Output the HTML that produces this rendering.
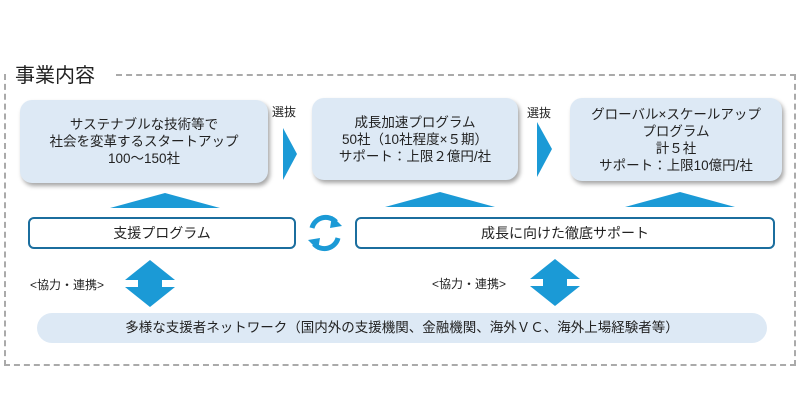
<!DOCTYPE html>
<html><head><meta charset="utf-8"><style>
body{margin:0;width:800px;height:420px;background:#fff;position:relative;overflow:hidden;font-family:"Liberation Sans","Noto Sans CJK JP",sans-serif;color:#222}
.a{position:absolute}
.box{position:absolute;background:#dde9f5;border-radius:12px;box-shadow:2px 3px 4px rgba(0,0,0,.35);text-align:center;font-size:13.5px;line-height:17px;display:flex;align-items:center;justify-content:center}
.prog{position:absolute;border:2px solid #1b6e9e;border-radius:6px;background:#fff;text-align:center;font-size:14px;line-height:28px}
.tri{position:absolute;width:0;height:0;border-bottom:16px solid #1b9ad6}
.lbl{position:absolute;font-size:12px}
</style></head><body>
<div class="a" style="left:4px;top:74px;width:792px;height:292px;border:2px dashed #aaa;border-top:none;box-sizing:border-box"></div>
<div class="a" style="left:116px;top:74px;width:680px;border-top:2px dashed #aaa"></div>
<div class="a" style="left:15px;top:59px;font-size:20px">事業内容</div>
<div class="box" style="left:20px;top:100px;width:248px;height:83px">サステナブルな技術等で<br>社会を変革するスタートアップ<br>100～150社</div>
<div class="box" style="left:312px;top:98px;width:206px;height:82px">成長加速プログラム<br>50社（10社程度×５期）<br>サポート：上限２億円/社</div>
<div class="box" style="left:570px;top:98px;width:212px;height:83px">グローバル×スケールアップ<br>プログラム<br>計５社<br>サポート：上限10億円/社</div>
<div class="lbl" style="left:272px;top:103px">選抜</div>
<div class="lbl" style="left:527px;top:104px">選抜</div>
<svg class="a" style="left:0;top:0" width="800" height="420">
<polygon points="283,128 297,154 283,180" fill="#1b9ad6"/>
<polygon points="537,122 552,149 537,177" fill="#1b9ad6"/>
<polygon points="110,208 165,193 220,208" fill="#1b9ad6"/>
<polygon points="385,207 440,192 495,207" fill="#1b9ad6"/>
<polygon points="625,207 680,192 735,207" fill="#1b9ad6"/>
<g fill="#1b9ad6">
<polygon points="150,260 175,280 162,280 162,287 175,287 150,307 125,287 138,287 138,280 125,280"/>
<polygon points="555,259 580,279 567,279 567,286 580,286 555,306 530,286 543,286 543,279 530,279"/>
</g>
<g fill="none" stroke="#1b9ad6" stroke-width="5">
<path d="M312,228 A14,14 0 0 1 336,222"/>
<path d="M338,238 A14,14 0 0 1 314,244"/>
</g>
<polygon points="332,216 342,226 330,228" fill="#1b9ad6"/>
<polygon points="318,250 308,240 320,238" fill="#1b9ad6"/>
</svg>
<div class="prog" style="left:28px;top:217px;width:264px;height:28px">支援プログラム</div>
<div class="prog" style="left:355px;top:217px;width:416px;height:28px">成長に向けた徹底サポート</div>
<div class="lbl" style="left:30px;top:276px">&lt;協力・連携&gt;</div>
<div class="lbl" style="left:432px;top:275px">&lt;協力・連携&gt;</div>
<div class="a" style="left:37px;top:313px;width:730px;height:30px;background:#dde9f5;border-radius:15px;text-align:center;line-height:30px;font-size:13.5px">多様な支援者ネットワーク（国内外の支援機関、金融機関、海外ＶＣ、海外上場経験者等）</div>
</body></html>
